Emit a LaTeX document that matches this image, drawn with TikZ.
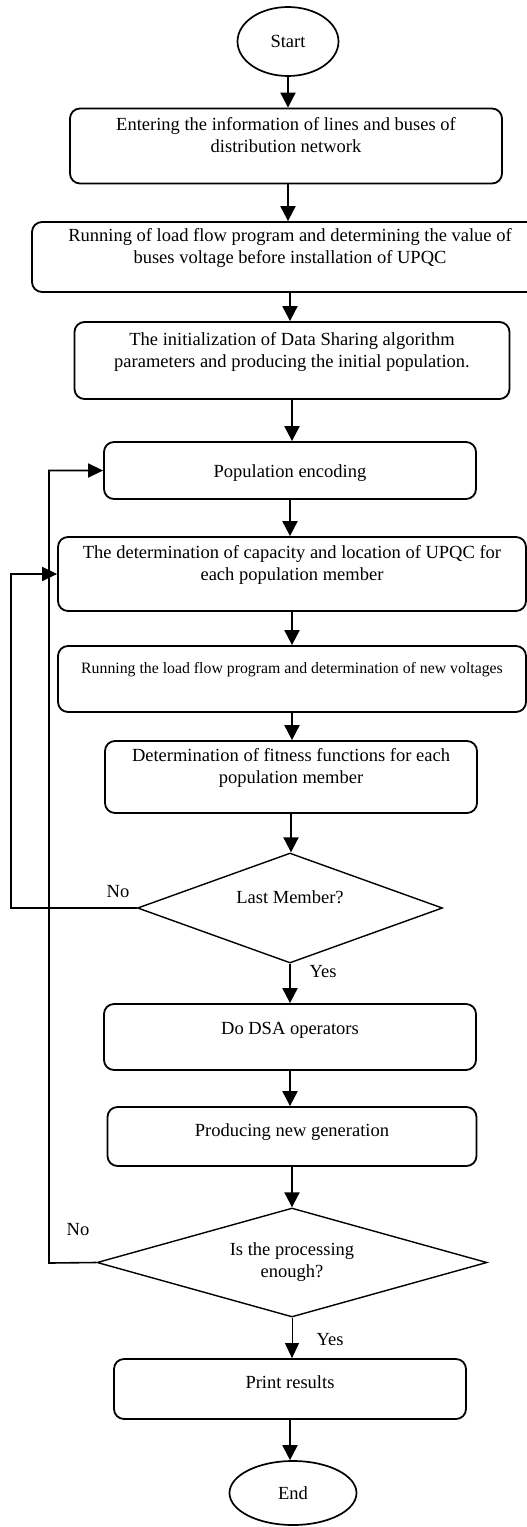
\documentclass[tikz,border=0pt]{standalone}
\usepackage{fontspec}
\setmainfont{Liberation Serif}
\usetikzlibrary{shapes.geometric,arrows.meta}
\begin{document}
\begin{tikzpicture}[x=1pt,y=1pt,
  every node/.style={font=\fontsize{18.5}{22}\selectfont},
  box/.style={draw,line width=1.8pt,rounded corners=10pt,align=center,inner sep=2pt,text height=13pt,text depth=0pt},
  oval/.style={draw,ellipse,line width=1.7pt,inner sep=0pt},
  decision/.style={draw,diamond,line width=1.4pt,align=center,inner sep=1pt},
  flow/.style={line width=2pt,-{Triangle[length=15pt,width=15pt]}},
  thinflow/.style={line width=1pt,-{Triangle[length=15pt,width=14pt]}},
  back/.style={line width=1.6pt,-{Triangle[length=15pt,width=14pt]}},
  lbl/.style={inner sep=0pt}
]
\useasboundingbox (0,0) rectangle (527,-1527);

\node[oval,minimum width=101pt,minimum height=69pt] (start) at (288,-41.5) {Start};
\node[box,minimum width=432pt,minimum height=75pt] (b1) at (286,-146) {Entering the information of lines and buses of\\distribution network};
\node[box,minimum width=516pt,minimum height=70pt] (b2) at (290,-257) {Running of load flow program and determining the value of\\buses voltage before installation of UPQC};
\node[box,minimum width=435pt,minimum height=77pt] (b3) at (292,-360.5) {The initialization of Data Sharing algorithm\\parameters and producing the initial population.};
\node[box,minimum width=372pt,minimum height=57pt] (b4) at (290,-470.5) {Population encoding};
\node[box,minimum width=468pt,minimum height=74pt] (b5) at (292,-574) {The determination of capacity and location of UPQC for\\each population member};
\node[box,minimum width=468pt,minimum height=66pt,text depth=24pt,font=\fontsize{15.8}{19}\selectfont] (b6) at (292,-679) {Running the load flow program and determination of new voltages};
\node[box,minimum width=372pt,minimum height=72pt] (b7) at (291,-777) {Determination of fitness functions for each\\population member};
\node[decision,minimum width=305pt,minimum height=110pt,aspect=2.77,text height=13pt,text depth=22pt] (d1) at (290,-908) {Last Member?};
\node[box,minimum width=372pt,minimum height=66pt,text depth=18pt] (b8) at (290,-1037) {Do DSA operators};
\node[box,minimum width=369pt,minimum height=59pt,text depth=13pt] (b9) at (292,-1136.5) {Producing new generation};
\node[decision,minimum width=390pt,minimum height=109pt,aspect=3.58] (d2) at (292,-1262.5) {Is the processing\\enough?};
\node[box,minimum width=352pt,minimum height=60pt,text depth=14pt] (b10) at (290,-1389) {Print results};
\node[oval,minimum width=127pt,minimum height=64pt] (end) at (293,-1493) {End};

\coordinate (n1) at (11,-908);
\coordinate (n2) at (49,-1263);

\draw[flow] (start.south) -- (start.south |- b1.north);
\draw[flow] (b1.south -| start.south) -- (start.south |- b2.north);
\draw[flow] (b2.south) -- (b2.south |- b3.north);
\draw[flow] (b3.south) -- (b3.south |- b4.north);
\draw[flow] (b4.south) -- (b4.south |- b5.north);
\draw[flow] (b5.south) -- (b5.south |- b6.north);
\draw[flow] (b6.south) -- (b6.south |- b7.north);
\draw[flow] (b7.south) -- (b7.south |- d1.north);
\draw[flow] (d1.south) -- (d1.south |- b8.north);
\draw[flow] (b8.south) -- (b8.south |- b9.north);
\draw[flow] (b9.south) -- (b9.south |- d2.north);
\draw[thinflow] (d2.south) -- (d2.south |- b10.north);
\draw[flow] (b10.south) -- (b10.south |- end.north);

\draw[back] (d1.west) -- (n1) |- (b5.west);
\draw[back] (d2.west) -- (n2) |- (b4.west);

\node[lbl] (no1) at (118,-892) {No};
\node[lbl] (yes1) at (323,-972) {Yes};
\node[lbl] (no2) at (78,-1230) {No};
\node[lbl] (yes2) at (330,-1340) {Yes};
\end{tikzpicture}
\end{document}
